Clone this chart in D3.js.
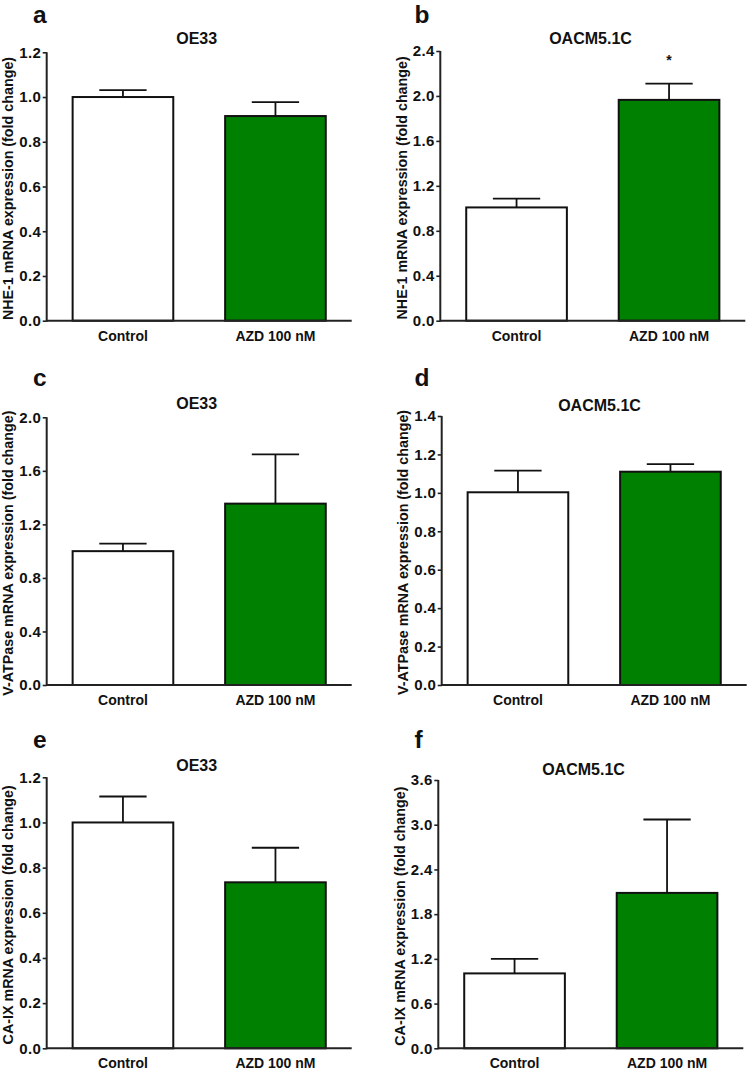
<!DOCTYPE html>
<html>
<head>
<meta charset="utf-8">
<script src="https://cdn.jsdelivr.net/npm/d3@7"></script>
<style>
  html, body { margin: 0; padding: 0; background: #fff; }
  svg { display: block; font-family: "Liberation Sans", Arial, sans-serif; }
</style>
</head>
<body>
<svg id="chart" width="749" height="1070"></svg>
<script>
// ---------------- data ----------------
const categories = ["Control", "AZD 100 nM"];
const panelLetters = ["a", "b", "c", "d", "e", "f"];
const cellLines = ["OE33", "OACM5.1C", "OE33", "OACM5.1C", "OE33", "OACM5.1C"];
const genes = ["NHE-1", "NHE-1", "V-ATPase", "V-ATPase", "CA-IX", "CA-IX"];
const means = [
  [1.00, 0.915],
  [1.008, 1.965],
  [1.00, 1.355],
  [1.003, 1.11],
  [1.00, 0.735],
  [1.005, 2.085]
];
const errors = [
  [0.031, 0.062],
  [0.078, 0.145],
  [0.056, 0.368],
  [0.113, 0.040],
  [0.115, 0.153],
  [0.196, 0.985]
];
const yMax = [1.2, 2.4, 2.0, 1.4, 1.2, 3.6];
const yTickStep = [0.2, 0.4, 0.4, 0.2, 0.2, 0.6];
const significance = [["", ""], ["", "*"], ["", ""], ["", ""], ["", ""], ["", ""]];
const barColors = ["#ffffff", "#008000"];

// ---------------- layout ----------------
const plotLeft   = [46.7, 440.3, 46.7, 441.7, 46.7, 438.3];
const plotTop    = [52.3, 51.0, 417.3, 416.0, 777.3, 780.0];
const plotBottom = [320.7, 320.7, 685.0, 685.0, 1048.3, 1048.3];
const plotWidth  = 305;
const titleX     = [196.7, 590.5, 196.7, 599.5, 196.7, 583.5];
const titleY     = [43.5, 43.5, 408.5, 411.0, 770.5, 775.0];
const letterX    = [33, 414.5, 33, 414.5, 33, 414.5];
const letterY    = [22.5, 22.5, 386, 386, 748, 748];

const svg = d3.select("#chart");
const fmt = d3.format(".1f");

panelLetters.forEach((letter, i) => {
  const x0 = plotLeft[i], x1 = plotLeft[i] + plotWidth;
  const y0 = plotBottom[i], y1 = plotTop[i];

  const x = d3.scaleBand().domain(categories).range([x0, x1])
    .paddingInner(0.34).paddingOuter(0.17);
  const y = d3.scaleLinear().domain([0, yMax[i]]).range([y0, y1]);

  const g = svg.append("g");

  // panel letter
  g.append("text")
    .attr("x", letterX[i]).attr("y", letterY[i])
    .attr("font-size", 24.5).attr("font-weight", "bold").attr("fill", "#111")
    .text(letter);

  // title
  g.append("text")
    .attr("x", titleX[i]).attr("y", titleY[i])
    .attr("text-anchor", "middle")
    .attr("font-size", 16).attr("font-weight", "bold").attr("fill", "#111")
    .text(cellLines[i]);

  const rows = categories.map((c, j) => ({ c, m: means[i][j], e: errors[i][j], s: significance[i][j], col: barColors[j] }));

  // error bars (upper only)
  const eg = g.append("g").attr("stroke", "#111").attr("stroke-width", 1.8);
  rows.forEach(r => {
    const cx = x(r.c) + x.bandwidth() / 2;
    const cw = x.bandwidth() * 0.47;
    eg.append("line").attr("x1", cx).attr("x2", cx).attr("y1", y(r.m)).attr("y2", y(r.m + r.e));
    eg.append("line").attr("x1", cx - cw / 2).attr("x2", cx + cw / 2).attr("y1", y(r.m + r.e)).attr("y2", y(r.m + r.e));
  });

  // bars
  g.append("g").selectAll("rect").data(rows).join("rect")
    .attr("x", d => x(d.c))
    .attr("width", x.bandwidth())
    .attr("y", d => y(d.m))
    .attr("height", d => y(0) - y(d.m))
    .attr("fill", d => d.col)
    .attr("stroke", "#111")
    .attr("stroke-width", 2);

  // significance stars
  g.append("g").selectAll("text").data(rows.filter(r => r.s)).join("text")
    .attr("x", d => x(d.c) + x.bandwidth() / 2)
    .attr("y", d => y(d.m + d.e) - 19)
    .attr("text-anchor", "middle")
    .attr("font-size", 14).attr("font-weight", "bold").attr("fill", "#111")
    .text(d => d.s);

  // y axis
  const ticks = d3.range(0, yMax[i] + yTickStep[i] / 2, yTickStep[i]);
  const yAxis = d3.axisLeft(y).tickValues(ticks).tickFormat(fmt).tickSize(4).tickSizeOuter(0).tickPadding(1.5);
  const ya = g.append("g").attr("transform", `translate(${x0},0)`).call(yAxis);
  ya.select(".domain").attr("stroke", "#222").attr("stroke-width", 2)
    .attr("d", `M0,${y0 + 1}V${y1}`);
  ya.selectAll(".tick line").attr("stroke", "#222").attr("stroke-width", 1.6);
  ya.selectAll(".tick text").attr("font-size", 15).attr("font-weight", "bold")
    .attr("letter-spacing", 0.4)
    .attr("fill", "#111").attr("font-family", "Liberation Sans, Arial, sans-serif");

  // x axis
  const xAxis = d3.axisBottom(x).tickSize(0).tickPadding(10);
  const xa = g.append("g").attr("transform", `translate(0,${y0})`).call(xAxis);
  xa.select(".domain").attr("stroke", "#222").attr("stroke-width", 2)
    .attr("d", `M${x0},0H${x1}`);
  xa.selectAll(".tick text").attr("font-size", 14).attr("font-weight", "bold")
    .attr("fill", "#111").attr("font-family", "Liberation Sans, Arial, sans-serif");

  // y label
  const ly = (y0 + y1) / 2 + 2;
  g.append("text")
    .attr("transform", `translate(${x0 - 33.5},${ly}) rotate(-90)`)
    .attr("text-anchor", "middle")
    .attr("font-size", 14.3).attr("font-weight", "bold").attr("fill", "#111")
    .text(genes[i] + " mRNA expression (fold change)");
});
</script>
</body>
</html>
